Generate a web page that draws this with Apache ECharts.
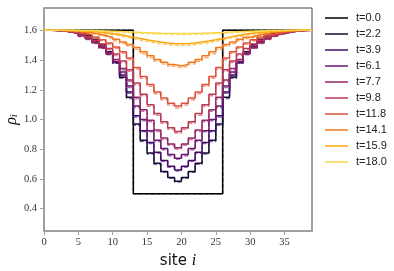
<!DOCTYPE html>
<html>
<head>
<meta charset="utf-8">
<script src="https://cdn.jsdelivr.net/npm/echarts@6/dist/echarts.min.js"></script>
<style>html,body{margin:0;padding:0;background:#fff;}#c{width:394px;height:271px;}</style>
</head>
<body>
<div id="c"></div>
<script>
// time labels
const times = ['t=0.0','t=2.2','t=3.9','t=6.1','t=7.7','t=9.8','t=11.8','t=14.1','t=15.9','t=18.0'];
const colors = ['#000004','#160b39','#420a68','#6a176e','#932667','#bc3754','#dd513a','#f37819','#fca50a','#f6d746'];
const xTicks = [0,5,10,15,20,25,30,35];
const yTicks = [0.4,0.6,0.8,1.0,1.2,1.4,1.6];

// density per site (sites 0..38), solid curves
const rho_t00 = [1.6,1.6,1.6,1.6,1.6,1.6,1.6,1.6,1.6,1.6,1.6,1.6,1.6,0.5,0.5,0.5,0.5,0.5,0.5,0.5,0.5,0.5,0.5,0.5,0.5,0.5,1.6,1.6,1.6,1.6,1.6,1.6,1.6,1.6,1.6,1.6,1.6,1.6,1.6];
const rho_t22 = [1.6,1.6,1.6,1.598,1.592,1.58,1.565,1.54,1.505,1.455,1.385,1.285,1.15,0.97,0.86,0.775,0.705,0.65,0.61,0.585,0.61,0.65,0.705,0.775,0.86,0.97,1.15,1.285,1.385,1.455,1.505,1.54,1.565,1.58,1.592,1.598,1.6,1.6,1.6];
const rho_t39 = [1.6,1.6,1.598,1.594,1.586,1.573,1.553,1.527,1.492,1.445,1.385,1.3,1.185,1.025,0.925,0.845,0.78,0.725,0.685,0.66,0.685,0.725,0.78,0.845,0.925,1.025,1.185,1.3,1.385,1.445,1.492,1.527,1.553,1.573,1.586,1.594,1.598,1.6,1.6];
const rho_t61 = [1.6,1.599,1.596,1.59,1.58,1.565,1.545,1.518,1.485,1.443,1.39,1.32,1.225,1.09,1.0,0.925,0.86,0.805,0.765,0.74,0.765,0.805,0.86,0.925,1.0,1.09,1.225,1.32,1.39,1.443,1.485,1.518,1.545,1.565,1.58,1.59,1.596,1.599,1.6];
const rho_t77 = [1.6,1.599,1.595,1.589,1.578,1.563,1.543,1.518,1.487,1.45,1.403,1.343,1.265,1.15,1.065,0.995,0.93,0.875,0.835,0.81,0.835,0.875,0.93,0.995,1.065,1.15,1.265,1.343,1.403,1.45,1.487,1.518,1.543,1.563,1.578,1.589,1.595,1.599,1.6];
const rho_t98 = [1.6,1.599,1.596,1.59,1.581,1.569,1.553,1.533,1.508,1.478,1.44,1.393,1.335,1.245,1.17,1.1,1.04,0.985,0.945,0.92,0.945,0.985,1.04,1.1,1.17,1.245,1.335,1.393,1.44,1.478,1.508,1.533,1.553,1.569,1.581,1.59,1.596,1.599,1.6];
const rho_t118 = [1.6,1.6,1.598,1.594,1.588,1.58,1.569,1.555,1.537,1.515,1.488,1.455,1.413,1.35,1.29,1.235,1.185,1.145,1.11,1.09,1.11,1.145,1.185,1.235,1.29,1.35,1.413,1.455,1.488,1.515,1.537,1.555,1.569,1.58,1.588,1.594,1.598,1.6,1.6];
const rho_t141 = [1.6,1.6,1.599,1.597,1.594,1.589,1.583,1.575,1.565,1.553,1.539,1.522,1.505,1.485,1.455,1.428,1.404,1.385,1.37,1.36,1.37,1.385,1.404,1.428,1.455,1.485,1.505,1.522,1.539,1.553,1.565,1.575,1.583,1.589,1.594,1.597,1.599,1.6,1.6];
const rho_t159 = [1.6,1.6,1.6,1.599,1.598,1.596,1.593,1.589,1.584,1.578,1.571,1.563,1.554,1.545,1.536,1.528,1.521,1.515,1.511,1.509,1.511,1.515,1.521,1.528,1.536,1.545,1.554,1.563,1.571,1.578,1.584,1.589,1.593,1.596,1.598,1.599,1.6,1.6,1.6];
const rho_t180 = [1.6,1.6,1.6,1.6,1.599,1.599,1.598,1.597,1.596,1.594,1.592,1.59,1.588,1.586,1.584,1.582,1.58,1.579,1.578,1.578,1.578,1.579,1.58,1.582,1.584,1.586,1.588,1.59,1.592,1.594,1.596,1.597,1.598,1.599,1.599,1.6,1.6,1.6,1.6];

// dashed companion curves
const rhoD_t00 = [1.6,1.6,1.6,1.6,1.6,1.6,1.6,1.6,1.6,1.6,1.6,1.6,1.6,0.5,0.5,0.5,0.5,0.5,0.5,0.5,0.5,0.5,0.5,0.5,0.5,0.5,1.6,1.6,1.6,1.6,1.6,1.6,1.6,1.6,1.6,1.6,1.6,1.6,1.6];
const rhoD_t22 = [1.6,1.6,1.6,1.598,1.591,1.578,1.562,1.536,1.5,1.449,1.378,1.278,1.142,0.962,0.852,0.768,0.699,0.645,0.605,0.58,0.605,0.645,0.699,0.768,0.852,0.962,1.142,1.278,1.378,1.449,1.5,1.536,1.562,1.578,1.591,1.598,1.6,1.6,1.6];
const rhoD_t39 = [1.6,1.6,1.598,1.593,1.585,1.571,1.55,1.523,1.487,1.439,1.378,1.292,1.177,1.017,0.917,0.838,0.773,0.719,0.679,0.654,0.679,0.719,0.773,0.838,0.917,1.017,1.177,1.292,1.378,1.439,1.487,1.523,1.55,1.571,1.585,1.593,1.598,1.6,1.6];
const rhoD_t61 = [1.6,1.599,1.596,1.589,1.578,1.562,1.541,1.513,1.479,1.436,1.382,1.312,1.216,1.081,0.991,0.917,0.852,0.797,0.757,0.732,0.757,0.797,0.852,0.917,0.991,1.081,1.216,1.312,1.382,1.436,1.479,1.513,1.541,1.562,1.578,1.589,1.596,1.599,1.6];
const rhoD_t77 = [1.6,1.599,1.594,1.587,1.575,1.559,1.538,1.512,1.48,1.442,1.394,1.333,1.255,1.14,1.055,0.985,0.92,0.866,0.826,0.801,0.826,0.866,0.92,0.985,1.055,1.14,1.255,1.333,1.394,1.442,1.48,1.512,1.538,1.559,1.575,1.587,1.594,1.599,1.6];
const rhoD_t98 = [1.6,1.599,1.595,1.588,1.578,1.565,1.548,1.527,1.501,1.47,1.431,1.383,1.324,1.234,1.159,1.089,1.029,0.975,0.935,0.91,0.935,0.975,1.029,1.089,1.159,1.234,1.324,1.383,1.431,1.47,1.501,1.527,1.548,1.565,1.578,1.588,1.595,1.599,1.6];
const rhoD_t118 = [1.6,1.6,1.597,1.592,1.585,1.576,1.564,1.549,1.53,1.507,1.479,1.445,1.402,1.339,1.278,1.223,1.173,1.133,1.098,1.078,1.098,1.133,1.173,1.223,1.278,1.339,1.402,1.445,1.479,1.507,1.53,1.549,1.564,1.576,1.585,1.592,1.597,1.6,1.6];
const rhoD_t141 = [1.6,1.6,1.598,1.595,1.591,1.585,1.578,1.569,1.558,1.545,1.53,1.512,1.494,1.473,1.443,1.416,1.392,1.373,1.358,1.348,1.358,1.373,1.392,1.416,1.443,1.473,1.494,1.512,1.53,1.545,1.558,1.569,1.578,1.585,1.591,1.595,1.598,1.6,1.6];
const rhoD_t159 = [1.6,1.6,1.599,1.598,1.596,1.593,1.589,1.584,1.578,1.571,1.563,1.554,1.544,1.534,1.525,1.517,1.51,1.504,1.5,1.498,1.5,1.504,1.51,1.517,1.525,1.534,1.544,1.554,1.563,1.571,1.578,1.584,1.589,1.593,1.596,1.598,1.599,1.6,1.6];
const rhoD_t180 = [1.6,1.6,1.6,1.599,1.598,1.597,1.596,1.594,1.592,1.59,1.587,1.584,1.581,1.578,1.576,1.574,1.572,1.571,1.57,1.57,1.57,1.571,1.572,1.574,1.576,1.578,1.581,1.584,1.587,1.59,1.592,1.594,1.596,1.597,1.598,1.599,1.6,1.6,1.6];

const solid = [rho_t00,rho_t22,rho_t39,rho_t61,rho_t77,rho_t98,rho_t118,rho_t141,rho_t159,rho_t180];
const dashed = [rhoD_t00,rhoD_t22,rhoD_t39,rhoD_t61,rhoD_t77,rhoD_t98,rhoD_t118,rhoD_t141,rhoD_t159,rhoD_t180];

function toSteps(arr){
  const d = arr.map((v,i)=>[i,v]);
  d.push([arr.length, arr[arr.length-1]]);
  return d;
}

const series = [];
times.forEach((t,k)=>{
  series.push({
    name: t, type:'line', step:'end', showSymbol:false, symbol:'none',
    data: toSteps(solid[k]),
    lineStyle:{color:colors[k], width:1.5},
    itemStyle:{color:colors[k]},
    z: 2
  });
  series.push({
    name: t+'_d', type:'line', step:'end', showSymbol:false, symbol:'none',
    data: toSteps(dashed[k]),
    lineStyle:{color:colors[k], width:1.5, type:[4,2], opacity:0.6},
    itemStyle:{color:colors[k]},
    z: 2
  });
});

const chart = echarts.init(document.getElementById('c'), null, {renderer:'canvas'});
chart.setOption({
  animation:false,
  backgroundColor:'#fff',
  grid:{left:44, top:8, width:268, height:223, show:true, borderColor:'#444', borderWidth:1, outerBoundsMode:'none', containLabel:false},
  legend:{
    data: times, orient:'vertical', left:320, top:7,
    icon:'rect', itemWidth:23, itemHeight:1.5, itemGap:4,
    textStyle:{fontFamily:'Liberation Sans', fontSize:11, color:'#222', lineHeight:12, padding:[0,0,0,3]}
  },
  xAxis:{
    type:'value', min:0, max:39,
    name:'{s|site }{i|i}', nameLocation:'middle', nameGap:19,
    nameTextStyle:{rich:{s:{fontFamily:'DejaVu Sans', fontSize:15, color:'#111'}, i:{fontFamily:'Liberation Serif', fontStyle:'italic', fontSize:16, color:'#111'}}},
    axisLine:{show:true, lineStyle:{color:'#a0a0a0', width:2}},
    axisTick:{show:true, length:4, lineStyle:{color:'#a0a0a0'}, customValues:xTicks},
    axisLabel:{customValues:xTicks, margin:6, fontFamily:'Liberation Serif', fontSize:10.5, color:'#333'},
    splitLine:{show:false}
  },
  yAxis:{
    type:'value', min:0.25, max:1.75,
    name:'{r|ρ}{s|i}', nameLocation:'middle', nameRotate:90, nameGap:24, nameMoveOverlap:false,
    nameTextStyle:{rich:{r:{fontFamily:'Liberation Serif', fontStyle:'italic', fontSize:16, color:'#111'}, s:{fontFamily:'Liberation Serif', fontStyle:'italic', fontSize:11, color:'#111', padding:[6,0,0,0]}}},
    axisLine:{show:true, lineStyle:{color:'#a0a0a0', width:2}},
    axisTick:{show:true, length:4, lineStyle:{color:'#a0a0a0'}, customValues:yTicks},
    axisLabel:{customValues:yTicks, margin:7, fontFamily:'Liberation Serif', fontSize:10.5, color:'#333', formatter:(v)=>Number(v).toFixed(1)},
    splitLine:{show:false}
  },
  series: series
});
</script>
</body>
</html>
